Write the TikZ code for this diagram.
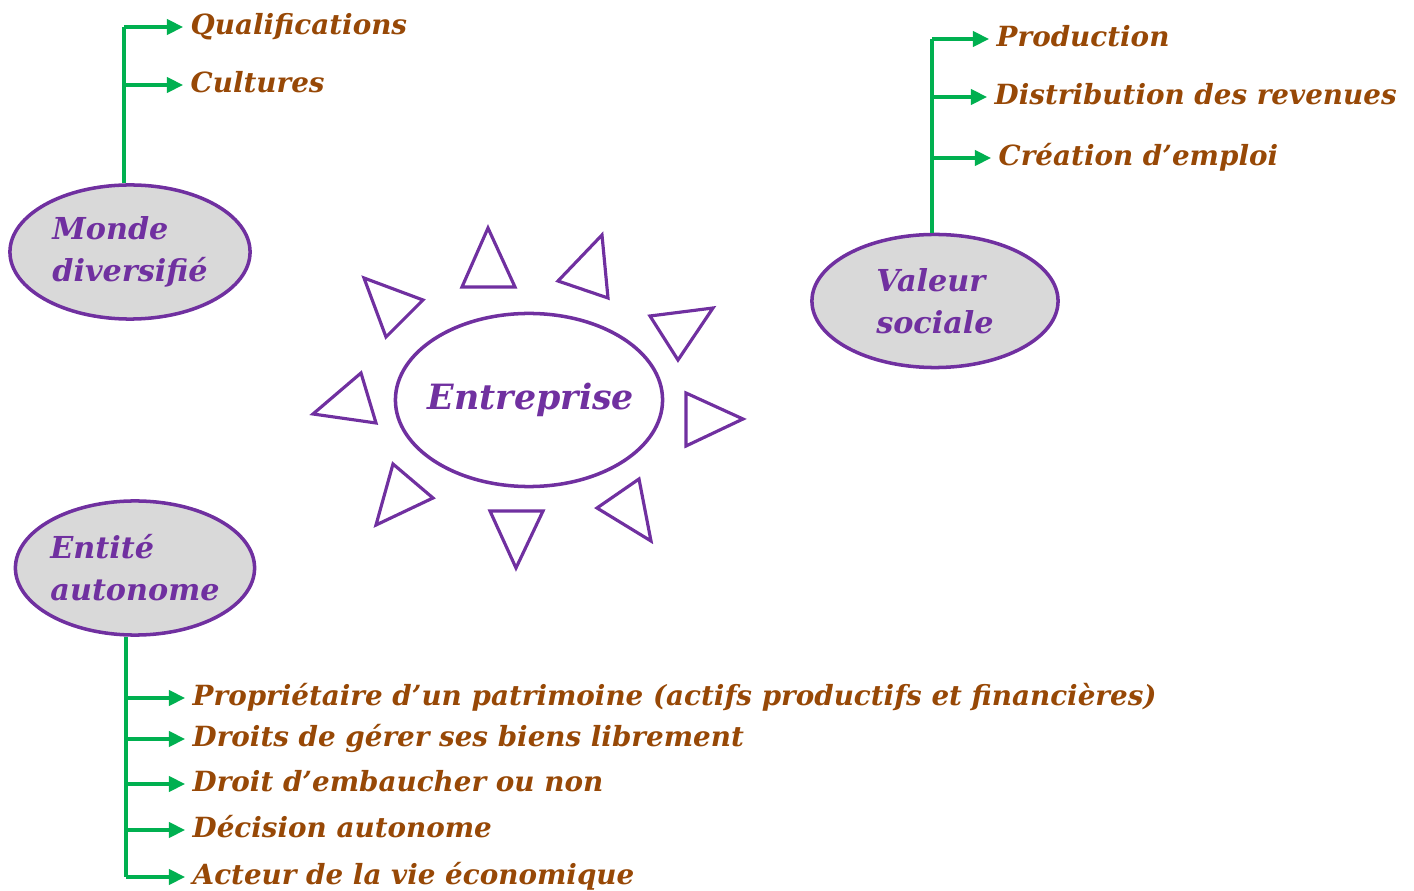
\documentclass[tikz,border=0pt]{standalone}
\usepackage{fontspec}
\setmainfont{DejaVu Serif}
\usepackage{tikz}
\usetikzlibrary{shapes.geometric}
\usetikzlibrary{arrows.meta}
\definecolor{purp}{HTML}{7030A0}
\definecolor{brn}{HTML}{974806}
\definecolor{grn}{HTML}{00B050}
\definecolor{gry}{HTML}{D9D9D9}
\begin{document}
\begin{tikzpicture}[x=0.01cm, y=-0.01cm,
    bubble/.style={ellipse, draw=purp, line width=1pt, fill=gry, inner sep=0pt,
        align=left, text=purp, font=\fontsize{8.6}{12}\selectfont\bfseries\itshape},
    item/.style={anchor=west, inner xsep=2pt, inner ysep=0pt, text=brn,
        text height=1.5ex, text depth=0.66ex, font=\fontsize{7.9}{10}\selectfont\bfseries\itshape},
    trunk/.style={draw=grn, line width=0.9pt},
    twig/.style={-{Triangle[length=4.6pt,width=4.4pt]}, draw=grn, line width=0.9pt},
    ray/.style={draw=purp, line width=0.9pt}]
\useasboundingbox (0,0) rectangle (1414,891);

\node[bubble, minimum width=2.4cm,  minimum height=1.34cm] (MD) at (130,252) {Monde\\diversifié};
\node[bubble, minimum width=2.46cm, minimum height=1.33cm] (VS) at (935,301) {Valeur\\sociale};
\node[bubble, minimum width=2.38cm, minimum height=1.34cm] (EA) at (135,568) {Entité\\autonome};
\node[ellipse, draw=purp, line width=1pt, fill=white, inner sep=0pt, minimum width=2.67cm, minimum height=1.73cm,
      label={[text=purp, font=\fontsize{9.9}{13}\selectfont\bfseries\itshape, xshift=0.02cm]center:Entreprise}]
      (EN) at (529,400) {};

% branches of the left top bubble
\node[item] (Q)  at (183,27) {Qualifications};
\node[item] (Cu) at (183,85) {Cultures};
\coordinate (md) at ([xshift=-0.06cm]MD.north);
\draw[trunk] (md) -- (md |- Q.west) edge[twig] (Q.west);
\draw (md |- Cu.west) edge[twig] (Cu.west);

% branches of the right bubble
\node[item] (P)  at (989,39)  {Production};
\node[item] (D)  at (987,97)  {Distribution des revenues};
\node[item] (Cr) at (991,158) {Création d’emploi};
\coordinate (vs) at ([xshift=-0.03cm]VS.north);
\draw[trunk] (vs) -- (vs |- P.west) edge[twig] (P.west);
\draw (vs |- D.west) edge[twig] (D.west)
      (vs |- Cr.west) edge[twig] (Cr.west);

% branches of the bottom bubble
\node[item] (Pr) at (185,698) {Propriétaire d’un patrimoine (actifs productifs et financières)};
\node[item] (Dg) at (185,739) {Droits de gérer ses biens librement};
\node[item] (De) at (185,784) {Droit d’embaucher ou non};
\node[item] (Da) at (185,830) {Décision autonome};
\node[item] (Ac) at (185,877) {Acteur de la vie économique};
\coordinate (ea) at ([xshift=-0.09cm]EA.south);
\draw[trunk] (ea) -- (ea |- Ac.west) edge[twig] (Ac.west);
\draw (ea |- Pr.west) edge[twig] (Pr.west)
      (ea |- Dg.west) edge[twig] (Dg.west)
      (ea |- De.west) edge[twig] (De.west)
      (ea |- Da.west) edge[twig] (Da.west);

% rays round the centre
\draw[ray] (488,228) -- (462,287) -- (515,287) -- cycle;
\draw[ray] (602,235) -- (558,281) -- (608,298) -- cycle;
\draw[ray] (650,316) -- (713,308) -- (678,360) -- cycle;
\draw[ray] (686,393) -- (743,419) -- (686,446) -- cycle;
\draw[ray] (639,479) -- (597,508) -- (651,541) -- cycle;
\draw[ray] (490,511) -- (543,511) -- (516,568) -- cycle;
\draw[ray] (393,464) -- (433,498) -- (376,525) -- cycle;
\draw[ray] (361,373) -- (313,414) -- (376,423) -- cycle;
\draw[ray] (364,278) -- (423,300) -- (386,337) -- cycle;
\end{tikzpicture}
\end{document}
